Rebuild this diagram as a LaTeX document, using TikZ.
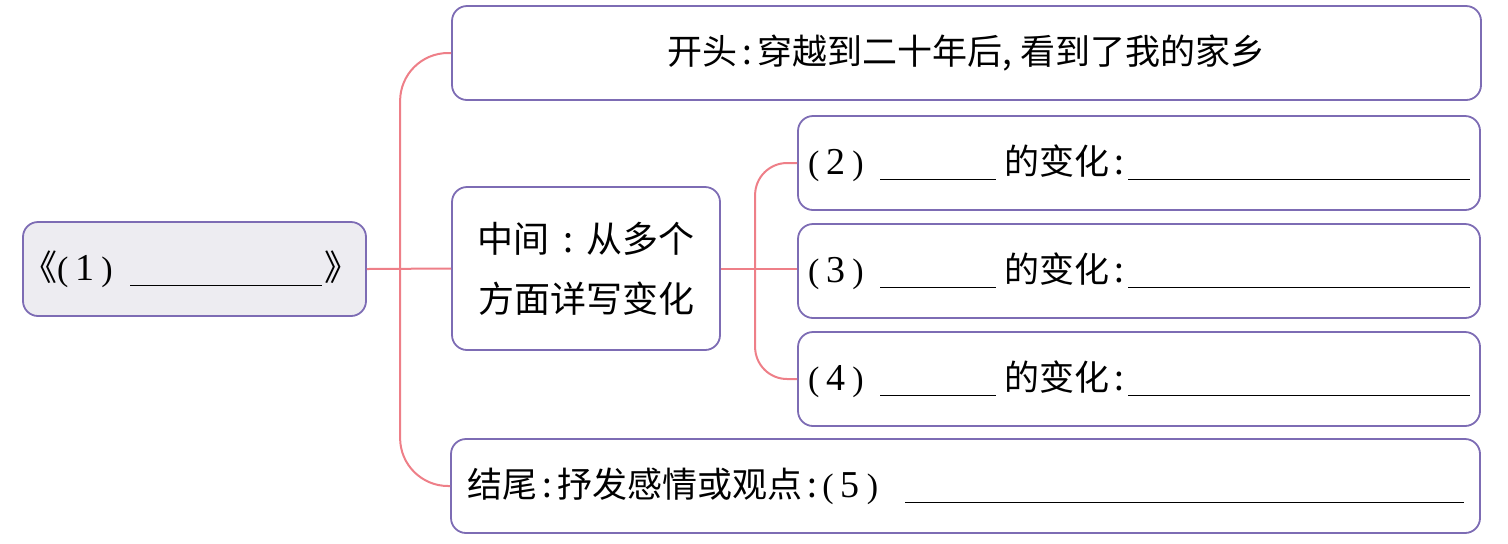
\documentclass[tikz,border=0pt]{standalone}
\usepackage{fontspec}
\setmainfont{Liberation Serif}
\newfontfamily\cjk{Noto Sans CJK SC}
\definecolor{boxline}{HTML}{7D6CB4}
\definecolor{connline}{HTML}{EE7F88}
\definecolor{rootfill}{HTML}{EDECF1}
\newcommand{\numb}[1]{{\normalfont\fontsize{17}{20}\selectfont(\hspace{3.5pt}{\fontsize{19}{20}\selectfont #1}\hspace{3.5pt})}}
\newcommand{\blank}[2][-3pt]{\rule[#1]{#2}{0.8pt}}
\newcommand{\cc}{\hspace{0.15em}:\hspace{0.15em}}
\begin{document}
\begin{tikzpicture}[x=0.5pt,y=-0.5pt,
  box/.style={draw=boxline, line width=0.9pt, rounded corners=7.5pt, fill=white,
    font=\fontsize{17.5}{30}\selectfont\cjk},
  conn/.style={draw=connline, line width=1pt}]
\useasboundingbox (0,0) rectangle (1508,543);

\node[box, fill=rootfill, inner xsep=8.5pt, inner ysep=0pt,
  minimum height=47pt] (L) at (194.5,269)
  {\makebox[154.5pt][l]{\makebox[45pt][l]{\hspace{-9pt}《\numb{1}}\blank[-3pt]{96pt}\hspace{1pt}》}};

\node[box, inner sep=0pt, minimum width=514.5pt, minimum height=47pt] (T) at (966.5,53)
  {\raisebox{-1.5pt}{开头\cc 穿越到二十年后,\hspace{0.25em}看到了我的家乡}};

\node[box, inner sep=0pt, minimum width=134pt, minimum height=81.5pt, align=center,
  font=\fontsize{18}{30}\selectfont\cjk] (M) at (586,268.5)
  {中间\hspace{0.375em}:\hspace{0.375em}从多个\\方面详写变化};

\node[box, inner xsep=5pt, inner ysep=0pt, text width=331pt, minimum height=47pt, align=left]
  (R2) at (1139,163)
  {\makebox[36pt][l]{\numb{2}}\blank{58pt}\hspace{4pt}\makebox[61.5pt][l]{的变化\cc}\hfill\blank{171pt}};
\node[box, inner xsep=5pt, inner ysep=0pt, text width=331pt, minimum height=47pt, align=left]
  (R3) at (1139,271)
  {\makebox[36pt][l]{\numb{3}}\blank{58pt}\hspace{4pt}\makebox[61.5pt][l]{的变化\cc}\hfill\blank{171pt}};
\node[box, inner xsep=5pt, inner ysep=0pt, text width=331pt, minimum height=47pt, align=left]
  (R4) at (1139,379)
  {\makebox[36pt][l]{\numb{4}}\blank{58pt}\hspace{4pt}\makebox[61.5pt][l]{的变化\cc}\hfill\blank{171pt}};

\node[box, inner xsep=8pt, inner ysep=0pt, text width=498.5pt, minimum height=47pt, align=left]
  (B) at (965.5,486)
  {结尾\cc 抒发感情或观点\cc\numb{5}\hfill\blank{279.5pt}\hspace{1pt}};

\draw[conn] (L.east) -- (M.west);
\draw[conn, rounded corners=24pt] (T.west) -- ++(-51,0) |- (B.west);
\draw[conn, rounded corners=16pt] (R2.west) -- ++(-42,0) |- (R4.west);
\draw[conn] (M.east) -- (M.east -| R3.west);
\end{tikzpicture}
\end{document}
